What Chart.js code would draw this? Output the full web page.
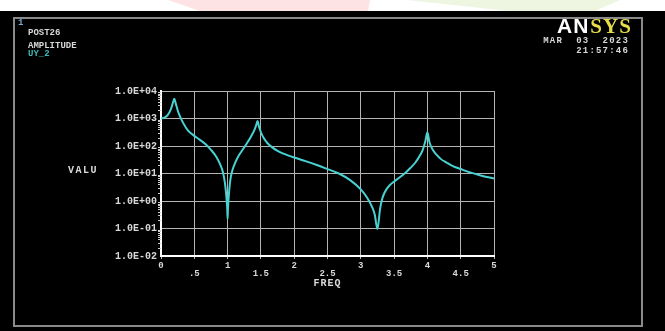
<!DOCTYPE html>
<html lang="en">
<head>
<meta charset="UTF-8" />
<title>POST26 AMPLITUDE UY_2</title>
<script src="https://cdn.jsdelivr.net/npm/chart.js"></script>
<style>
  html, body { margin: 0; padding: 0; background: #000; overflow: hidden; }
  #chart { display: block; }
</style>
</head>
<body>
<canvas id="chart" width="665" height="331"></canvas>
<script>
// harmonic response of UY at node 2, frequency sweep 0..5
const freq = [
  0.00, 0.05, 0.10, 0.15, 0.18, 0.20, 0.22, 0.25, 0.28, 0.33,
  0.40, 0.50, 0.58, 0.67, 0.75, 0.83, 0.89, 0.93, 0.96, 0.98,
  0.995, 1.00, 1.005, 1.02, 1.04, 1.07, 1.12, 1.17, 1.23, 1.29,
  1.35, 1.40, 1.43, 1.45, 1.47, 1.50, 1.54, 1.60, 1.67, 1.75,
  1.84, 2.00, 2.17, 2.34, 2.50, 2.67, 2.84, 3.00, 3.10, 3.17,
  3.21, 3.25, 3.29, 3.33, 3.40, 3.54, 3.65, 3.74, 3.82, 3.89,
  3.93, 3.97, 4.00, 4.03, 4.08, 4.19, 4.30, 4.39, 4.50, 4.64,
  4.80, 5.00
];
const amplitude = [
  1000, 1070, 1320, 2240, 3800, 5250, 3630, 2000, 1260, 708,
  380, 234, 170, 115, 72.4, 40.7, 20.9, 11.2, 4.47, 1.58,
  0.501, 0.224, 0.501, 1.78, 5.62, 12.6, 26.3, 45.7, 75.9, 126,
  219, 372, 575, 813, 525, 316, 200, 126, 89.1, 66.1,
  52.5, 38.0, 28.2, 20.4, 14.5, 10.0, 5.75, 2.63, 1.26, 0.603,
  0.316, 0.0955, 0.525, 1.41, 3.02, 6.03, 9.55, 15.5, 25.1, 45.7,
  72.4, 151, 316, 141, 72.4, 35.5, 24.0, 18.2, 14.5, 11.0,
  8.51, 6.61
];
const xTicks = [0, 0.5, 1, 1.5, 2, 2.5, 3, 3.5, 4, 4.5, 5];
const yTicks = [0.01, 0.1, 1, 10, 100, 1000, 10000];

const TXT = '#d8d8d8';
const MONO = '"Liberation Mono", "DejaVu Sans Mono", monospace';

function fmtE(v) {
  const e = Math.round(Math.log10(v));
  return '1.0E' + (e < 0 ? '-' : '+') + String(Math.abs(e)).padStart(2, '0');
}

// screen frame, header texts and logo
const ansysFrame = {
  id: 'ansysFrame',
  beforeDraw(chart) {
    const c = chart.ctx;
    c.save();
    c.fillStyle = '#000';
    c.fillRect(0, 0, 665, 331);
    // page strip above the screen grab
    c.fillStyle = '#fff';
    c.fillRect(0, 0, 665, 11);
    c.fillStyle = '#fde3e3';
    c.beginPath();
    c.moveTo(168, 0); c.lineTo(370, 0); c.lineTo(368, 11); c.lineTo(200, 11);
    c.closePath(); c.fill();
    c.fillStyle = '#eef6e2';
    c.beginPath();
    c.moveTo(407, 0); c.lineTo(620, 0); c.lineTo(595, 11); c.lineTo(508, 11);
    c.closePath(); c.fill();
    // window border
    c.strokeStyle = '#8a8a8a';
    c.lineWidth = 2;
    c.strokeRect(14, 18, 628, 308);
    c.restore();
  },
  afterDraw(chart) {
    const c = chart.ctx;
    const y = chart.scales.y;
    const area = chart.chartArea;
    c.save();
    // minor decade ticks on the value axis
    c.strokeStyle = '#cfcfcf';
    c.lineWidth = 1;
    for (let d = -2; d < 4; d++) {
      for (let k = 2; k <= 9; k++) {
        const py = Math.round(y.getPixelForValue(k * Math.pow(10, d))) + 0.5;
        c.beginPath();
        c.moveTo(area.left - 3, py);
        c.lineTo(area.left, py);
        c.stroke();
      }
    }
    c.textBaseline = 'middle';
    c.textAlign = 'left';
    c.font = 'bold 9px ' + MONO;
    c.fillStyle = '#6fa8d8';
    c.fillText('1', 18, 23);
    c.fillStyle = TXT;
    c.fillText('POST26', 28, 33);
    c.fillText('AMPLITUDE', 28, 46);
    c.fillStyle = '#3fb8b8';
    c.fillText('UY_2', 28, 54);
    c.fillStyle = TXT;
    c.font = 'bold 10px ' + MONO;
    c.letterSpacing = '1.5px';
    c.fillText('VALU', 68, 170);
    c.textAlign = 'center';
    c.letterSpacing = '1px';
    c.fillText('FREQ', (area.left + area.right) / 2, 283);
    // date stamp
    c.textAlign = 'right';
    c.font = 'bold 9px ' + MONO;
    c.letterSpacing = '1.2px';
    c.fillText('MAR  03  2023', 629, 41);
    c.fillText('21:57:46', 629, 51);
    c.letterSpacing = '0px';
    // logo
    c.textAlign = 'left';
    c.textBaseline = 'alphabetic';
    c.font = 'bold 21px "Liberation Sans", sans-serif';
    c.fillStyle = '#ffffff';
    c.letterSpacing = '1px';
    c.fillText('AN', 557, 33);
    const w = c.measureText('AN').width;
    c.font = 'bold 21px "Liberation Serif", serif';
    c.fillStyle = '#e6dc4a';
    c.fillText('SYS', 557 + w + 1, 33);
    c.restore();
  }
};

new Chart(document.getElementById('chart'), {
  type: 'line',
  data: {
    datasets: [{
      label: 'UY_2',
      data: freq.map((f, i) => ({ x: f, y: amplitude[i] })),
      borderColor: '#48d2d2',
      borderWidth: 2,
      pointRadius: 0,
      cubicInterpolationMode: 'monotone',
      fill: false
    }]
  },
  options: {
    responsive: false,
    animation: false,
    devicePixelRatio: 1,
    layout: { padding: { top: 91, right: 171, left: 0, bottom: 0 } },
    plugins: { legend: { display: false }, tooltip: { enabled: false } },
    scales: {
      x: {
        type: 'linear',
        min: 0,
        max: 5,
        afterBuildTicks: s => { s.ticks = xTicks.map(v => ({ value: v })); },
        afterFit: s => { s.height = 75; },
        ticks: {
          color: TXT,
          font: { family: MONO, size: 9, weight: 'bold', lineHeight: 0.95 },
          maxRotation: 0,
          autoSkip: false,
          padding: 2,
          callback: v => Number.isInteger(v) ? String(v) : ['', v < 1 ? '.5' : String(v)]
        },
        grid: { color: '#b4b4b4', lineWidth: 1, tickLength: 3 },
        border: { color: '#ffffff', width: 2 }
      },
      y: {
        type: 'logarithmic',
        min: 0.01,
        max: 10000,
        afterBuildTicks: s => { s.ticks = yTicks.map(v => ({ value: v })); },
        afterFit: s => { s.width = 161; },
        ticks: {
          color: TXT,
          font: { family: MONO, size: 10, weight: 'bold' },
          padding: 4,
          callback: v => fmtE(v)
        },
        grid: { color: '#b4b4b4', lineWidth: 1, drawTicks: false },
        border: { color: '#ffffff', width: 2 }
      }
    }
  },
  plugins: [ansysFrame]
});
</script>
</body>
</html>
